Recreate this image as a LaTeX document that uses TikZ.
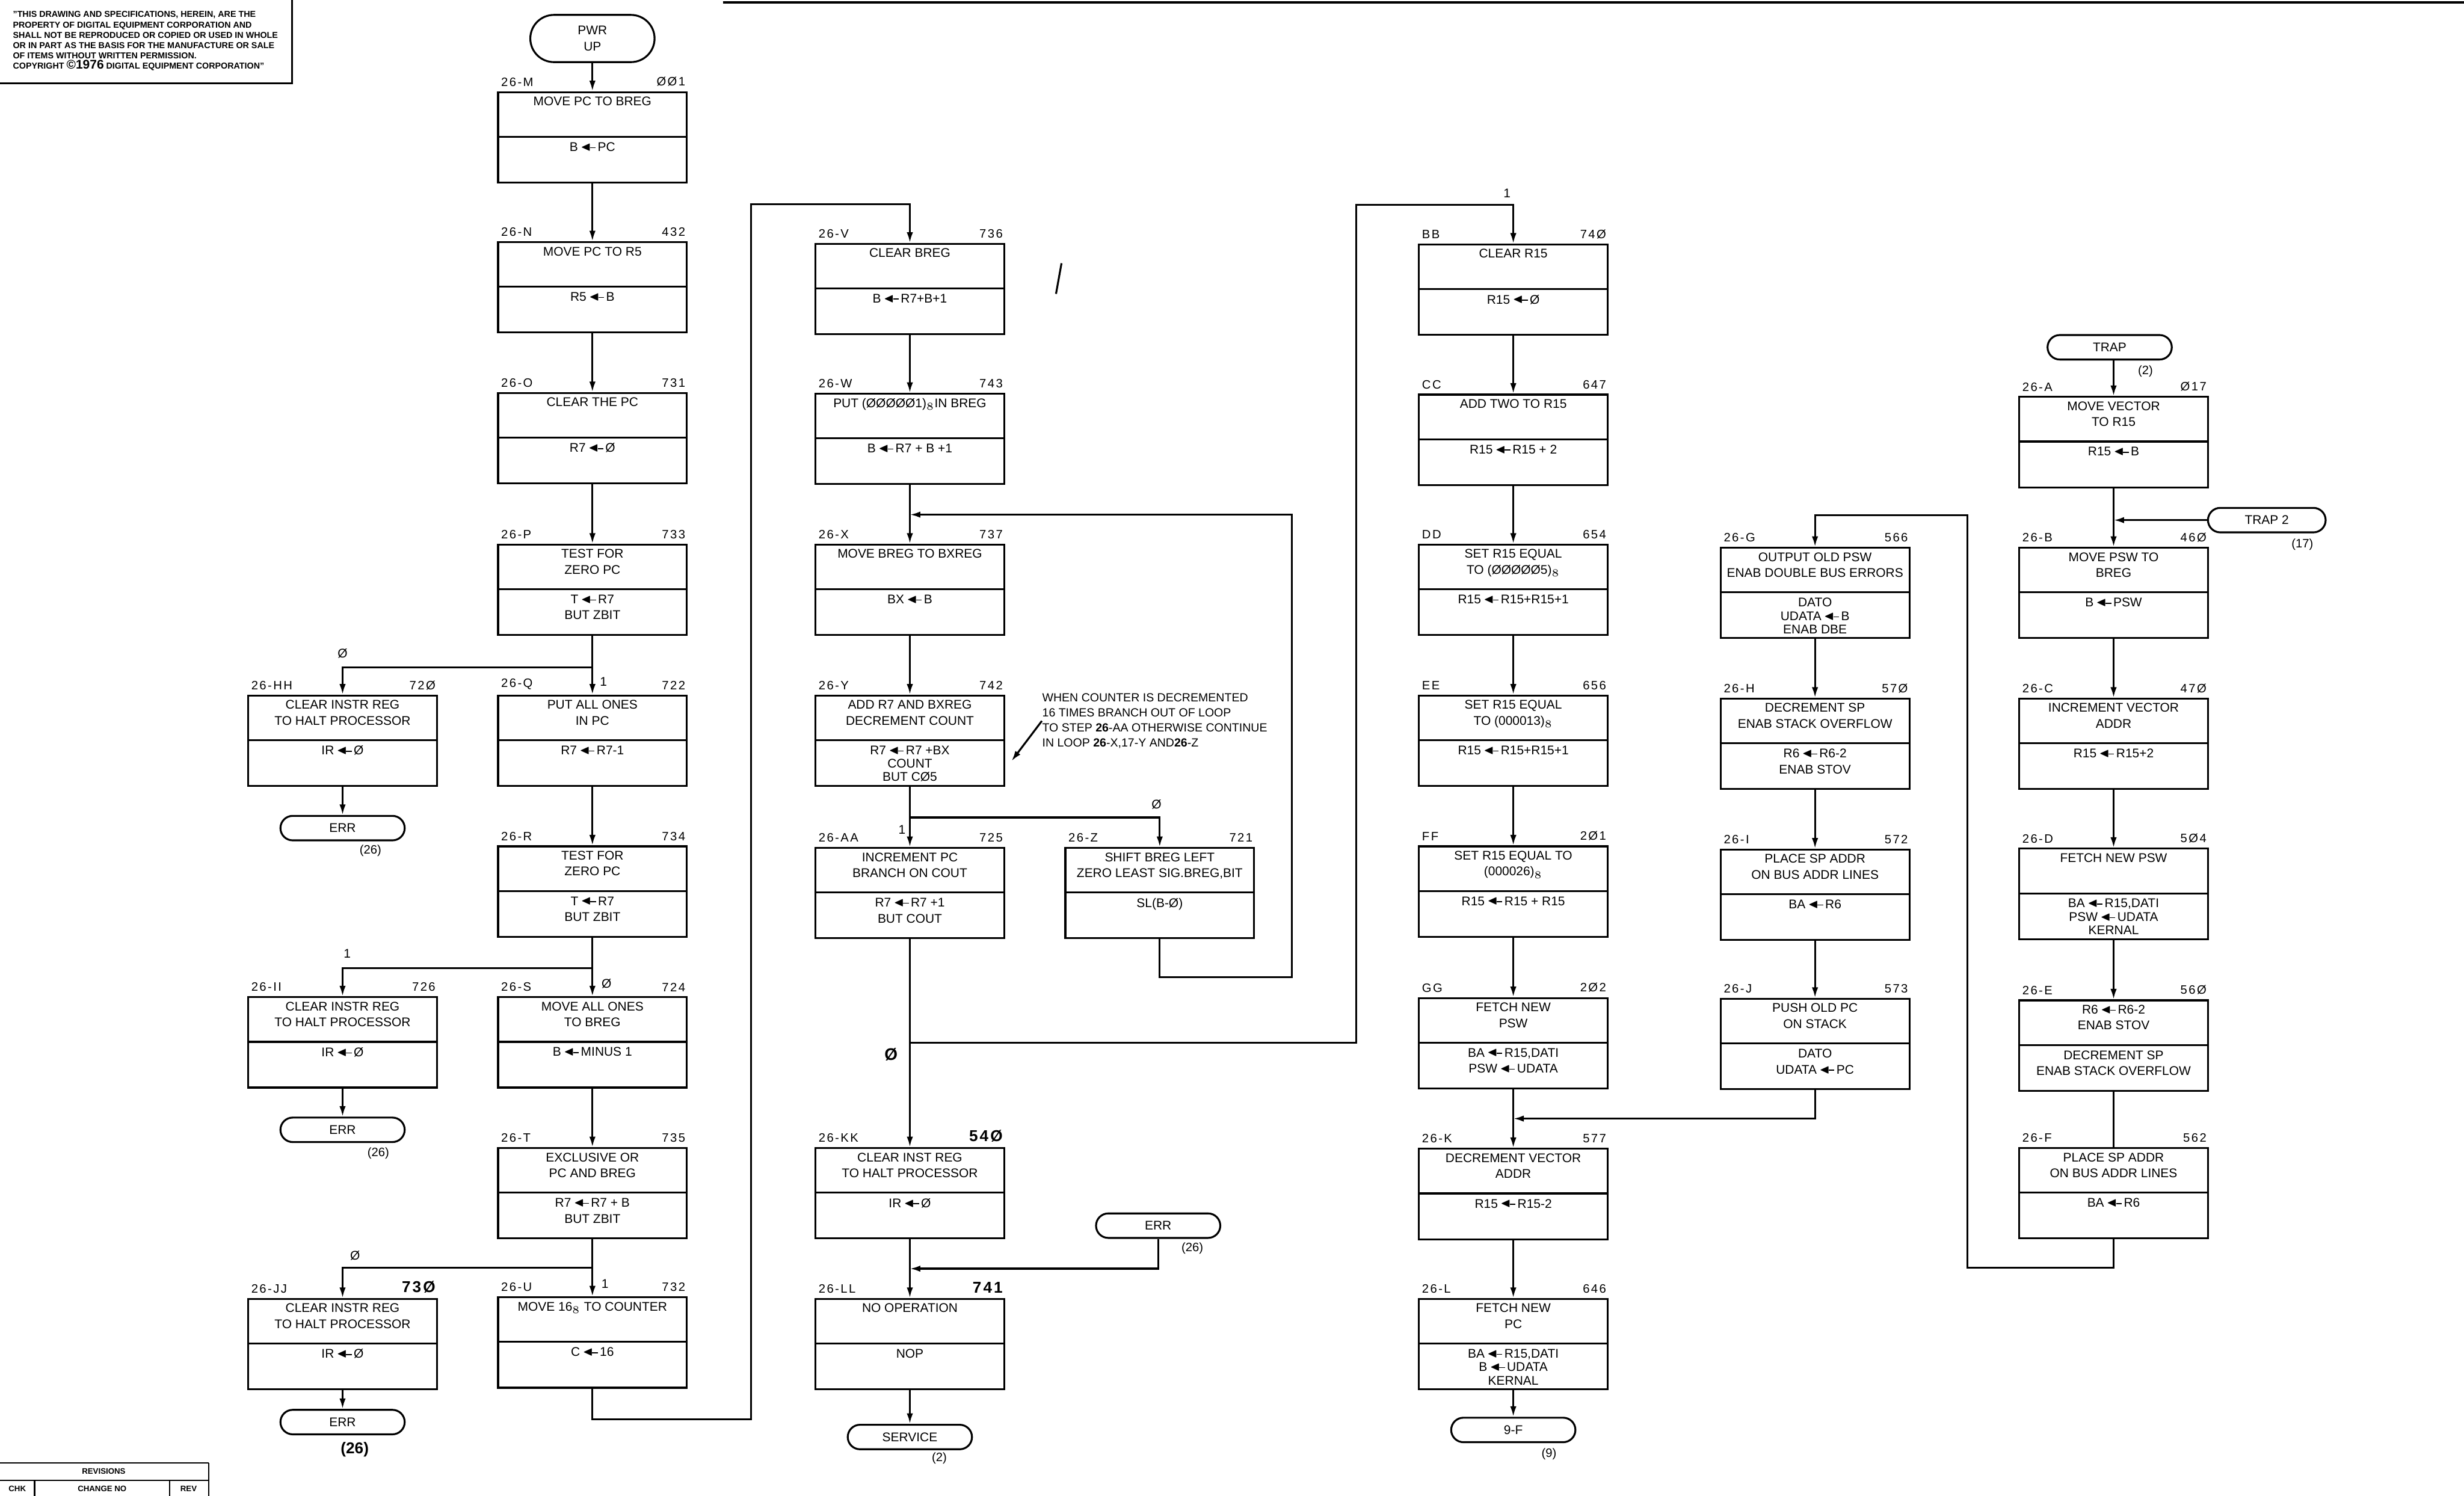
\documentclass[tikz,border=0pt]{standalone}
\usepackage{amssymb}
\usepackage{fontspec}
\setmainfont{Liberation Sans}
\usetikzlibrary{arrows.meta,calc,shapes.misc}

% register transfer arrow
\newcommand{\regarr}{\,\raisebox{0.1em}{$\scriptstyle\blacktriangleleft$}\kern-0.12em\rule[0.25em]{0.45em}{0.07em}\,}
% bold address number
\newcommand{\bnum}[1]{{\fontsize{7.5}{8}\selectfont\bfseries #1}}
% one microstep: [lower text options]{name}{x}{top}{step id}{address}{action}{transfer}
\newcommand{\flowbox}[8][]{%
  \node[stepbox] (#2) at (#3,#4) {};
  \draw[link] ($(#2.north west)+(0,29)$) -- ($(#2.north east)+(0,29)$);
  \node[steptext] (#2-up) at ($(#2.north)+(0,2)$) {#7};
  \node[steptext,#1] (#2-lo) at ($(#2.north)+(0,31)$) {#8};
  \node[steplabel,anchor=south west] (#2-id) at ($(#2.north west)+(1,-1.5)$) {#5};
  \node[steplabel,anchor=south east] (#2-ad) at ($(#2.north east)+(0,-1.5)$) {#6};
}

\begin{document}
\begin{tikzpicture}[x=0.02631cm, y=-0.02631cm,
    stepbox/.style={draw, line width=0.9pt, minimum width=3.16cm,
      minimum height=1.513cm, inner sep=0pt, anchor=north},
    steptext/.style={anchor=north, align=center, inner sep=1pt,
      font=\fontsize{6}{7.6}\selectfont},
    tight/.style={font=\fontsize{6}{6.4}\selectfont},
    steplabel/.style={inner sep=1pt,
      font=\fontsize{5.8}{7}\selectfont\addfontfeature{LetterSpace=12}},
    term/.style={draw, rounded rectangle, line width=0.9pt, align=center,
      minimum width=2.08cm, minimum height=0.41cm, inner sep=0pt,
      font=\fontsize{6}{7.6}\selectfont},
    refnote/.style={inner sep=0pt, font=\fontsize{5.8}{7}\selectfont},
    brlabel/.style={inner sep=0pt, font=\fontsize{6}{7}\selectfont},
    link/.style={line width=0.9pt},
    flow/.style={link, -{Latex[length=5pt,width=3pt]}}]

  % sheet
  \path[use as bounding box, fill=white] (0,0) rectangle (1568,952);
  \draw[link] (460,1.5) -- (1568,1.5);

  % copyright notice
  \node[anchor=north west, align=left, inner sep=0pt,
    font=\fontsize{4.1}{4.9}\selectfont\bfseries] (notice) at (8,7)
    {"THIS DRAWING AND SPECIFICATIONS, HEREIN, ARE THE\\
     PROPERTY OF DIGITAL EQUIPMENT CORPORATION AND\\
     SHALL NOT BE REPRODUCED OR COPIED OR USED IN WHOLE\\
     OR IN PART AS THE BASIS FOR THE MANUFACTURE OR SALE\\
     OF ITEMS WITHOUT WRITTEN PERMISSION.\\
     COPYRIGHT {\fontsize{6}{6}\selectfont ©1976} DIGITAL EQUIPMENT CORPORATION"};
  \draw[link] (186,0) |- (0,53);

  % revisions block
  \draw[line width=0.6pt] (0,931) -- (133,931) (0,942) -- (133,942)
    (133,931) -- (133,952) (22,942) -- (22,952) (108,942) -- (108,952);
  \node[font=\fontsize{3.8}{4}\selectfont\bfseries] (revhead) at (66,936.5) {REVISIONS};
  \node[font=\fontsize{3.8}{4}\selectfont\bfseries] (revchk) at (11,947.5) {CHK};
  \node[font=\fontsize{3.8}{4}\selectfont\bfseries] (revno) at (65,947.5) {CHANGE NO};
  \node[font=\fontsize{3.8}{4}\selectfont\bfseries] (revrev) at (120,947.5) {REV};

  % column 1: power up
  \node[term, minimum height=0.79cm] (pwr) at (377,24.5) {PWR\\UP};
  \flowbox{M}{377}{58}{26-M}{ØØ1}{MOVE PC TO BREG}{B\regarr PC}
  \flowbox{N}{377}{153.5}{26-N}{432}{MOVE PC TO R5}{R5\regarr B}
  \flowbox{O}{377}{249.5}{26-O}{731}{CLEAR THE PC}{R7\regarr Ø}
  \flowbox{P}{377}{346}{26-P}{733}{TEST FOR\\ZERO PC}{T\regarr R7\\BUT ZBIT}
  \flowbox{Q}{377}{442}{26-Q}{722}{PUT ALL ONES\\IN PC}{R7\regarr R7-1}
  \flowbox{HH}{218}{442}{26-HH}{72Ø}{CLEAR INSTR REG\\TO HALT PROCESSOR}{IR\regarr Ø}
  \flowbox{R}{377}{538}{26-R}{734}{TEST FOR\\ZERO PC}{T\regarr R7\\BUT ZBIT}
  \flowbox{II}{218}{634}{26-II}{726}{CLEAR INSTR REG\\TO HALT PROCESSOR}{IR\regarr Ø}
  \flowbox{S}{377}{634}{26-S}{724}{MOVE ALL ONES\\TO BREG}{B\regarr MINUS 1}
  \flowbox{T}{377}{730}{26-T}{735}{EXCLUSIVE OR\\PC AND BREG}{R7\regarr R7 + B\\BUT ZBIT}
  \flowbox{JJ}{218}{826}{26-JJ}{\bnum{73Ø}}{CLEAR INSTR REG\\TO HALT PROCESSOR}{IR\regarr Ø}
  \flowbox{U}{377}{825}{26-U}{732}{MOVE 16$_8$ TO COUNTER}{C\regarr 16}
  \node[term] (err1) at (218,527) {ERR};
  \node[term] (err2) at (218,719) {ERR};
  \node[term] (err3) at (218,905) {ERR};

  % column 2: counting loop
  \flowbox{V}{579}{154.5}{26-V}{736}{CLEAR BREG}{B\regarr R7+B+1}
  \flowbox{W}{579}{250}{26-W}{743}{PUT (ØØØØØ1)$_8$IN BREG}{B\regarr R7 + B +1}
  \flowbox{X}{579}{346}{26-X}{737}{MOVE BREG TO BXREG}{BX\regarr B}
  \flowbox[tight]{Y}{579}{442}{26-Y}{742}{ADD R7 AND BXREG\\DECREMENT COUNT}{R7\regarr R7 +BX\\COUNT\\BUT CØ5}
  \flowbox{AA}{579}{539}{26-AA}{725}{INCREMENT PC\\BRANCH ON COUT}{R7\regarr R7 +1\\BUT COUT}
  \flowbox{Z}{738}{539}{26-Z}{721}{SHIFT BREG LEFT\\ZERO LEAST SIG.BREG,BIT}{SL(B-Ø)}
  \flowbox{KK}{579}{730}{26-KK}{\bnum{54Ø}}{CLEAR INST REG\\TO HALT PROCESSOR}{IR\regarr Ø}
  \flowbox{LL}{579}{826}{26-LL}{\bnum{741}}{NO OPERATION}{NOP}
  \node[term] (err4) at (737,780) {ERR};
  \node[term] (svc) at (579,914.5) {SERVICE};
  \node[anchor=north west, align=left, inner sep=0pt,
    font=\fontsize{5.6}{7.2}\selectfont] (note) at (663,441)
    {WHEN COUNTER IS DECREMENTED\\
     16 TIMES BRANCH OUT OF LOOP\\
     TO STEP \textbf{26}-AA OTHERWISE CONTINUE\\
     IN LOOP \textbf{26}-X,17-Y AND\textbf{26}-Z};

  % column 3: vector 4 setup
  \flowbox{BB}{963}{155}{BB}{74Ø}{CLEAR R15}{R15\regarr Ø}
  \flowbox{CC}{963}{250.5}{CC}{647}{ADD TWO TO R15}{R15\regarr R15 + 2}
  \flowbox{DD}{963}{346}{DD}{654}{SET R15 EQUAL\\TO (ØØØØØ5)$_8$}{R15\regarr R15+R15+1}
  \flowbox{EE}{963}{442}{EE}{656}{SET R15 EQUAL\\TO (000013)$_8$}{R15\regarr R15+R15+1}
  \flowbox{FF}{963}{538}{FF}{2Ø1}{SET R15 EQUAL TO\\(000026)$_8$}{R15\regarr R15 + R15}
  \flowbox{GG}{963}{634.5}{GG}{2Ø2}{FETCH NEW\\PSW}{BA\regarr R15,DATI\\PSW\regarr UDATA}
  \flowbox{K}{963}{730.5}{26-K}{577}{DECREMENT VECTOR\\ADDR}{R15\regarr R15-2}
  \flowbox[tight]{L}{963}{826}{26-L}{646}{FETCH NEW\\PC}{BA\regarr R15,DATI\\B\regarr UDATA\\KERNAL}
  \node[term] (ninef) at (963,910) {9-F};

  % column 4: push old psw and pc
  \flowbox[tight]{G}{1155}{348}{26-G}{566}{OUTPUT OLD PSW\\ENAB DOUBLE BUS ERRORS}{DATO\\UDATA\regarr B\\ENAB DBE}
  \flowbox{H}{1155}{444}{26-H}{57Ø}{DECREMENT SP\\ENAB STACK OVERFLOW}{R6\regarr R6-2\\ENAB STOV}
  \flowbox{I}{1155}{540}{26-I}{572}{PLACE SP ADDR\\ON BUS ADDR LINES}{BA\regarr R6}
  \flowbox{J}{1155}{635}{26-J}{573}{PUSH OLD PC\\ON STACK}{DATO\\UDATA\regarr PC}

  % column 5: trap entry
  \node[term] (trap) at (1342.5,221) {TRAP};
  \node[term, minimum width=1.97cm] (trap2) at (1442.5,331) {TRAP 2};
  \flowbox{A}{1345}{252}{26-A}{Ø17}{MOVE VECTOR\\TO R15}{R15\regarr B}
  \flowbox{B}{1345}{348}{26-B}{46Ø}{MOVE PSW TO\\BREG}{B\regarr PSW}
  \flowbox{C}{1345}{444}{26-C}{47Ø}{INCREMENT VECTOR\\ADDR}{R15\regarr R15+2}
  \flowbox[tight]{D}{1345}{539.5}{26-D}{5Ø4}{FETCH NEW PSW}{BA\regarr R15,DATI\\PSW\regarr UDATA\\KERNAL}
  \flowbox{E}{1345}{636}{26-E}{56Ø}{R6\regarr R6-2\\ENAB STOV}{DECREMENT SP\\ENAB STACK OVERFLOW}
  \flowbox{F}{1345}{730}{26-F}{562}{PLACE SP ADDR\\ON BUS ADDR LINES}{BA\regarr R6}

  % exit references
  \node[refnote] (err1-ref) at ($(err1.south east)+(-14,6)$) {(26)};
  \node[refnote] (err2-ref) at ($(err2.south east)+(-9,6.5)$) {(26)};
  \node[refnote, font=\fontsize{7.5}{8}\selectfont\bfseries] (err3-ref) at ($(err3.south east)+(-24,9)$) {(26)};
  \node[refnote] (err4-ref) at ($(err4.south east)+(-10,6)$) {(26)};
  \node[refnote] (svc-ref) at ($(svc.south east)+(-13,5)$) {(2)};
  \node[refnote] (ninef-ref) at ($(ninef.south east)+(-9,7)$) {(9)};
  \node[refnote] (trap-ref) at ($(trap.south east)+(-9,7)$) {(2)};
  \node[refnote] (trap2-ref) at ($(trap2.south east)+(-7,7)$) {(17)};

  % branch values
  \node[brlabel] (Pzero) at (218,416) {Ø};
  \node[brlabel] (Pone) at (384,434) {1};
  \node[brlabel] (Rone) at (221,607) {1};
  \node[brlabel] (Rzero) at (386,626) {Ø};
  \node[brlabel] (Tzero) at (226,799) {Ø};
  \node[brlabel] (Tone) at (385,817) {1};
  \node[brlabel] (Yzero) at (736,512) {Ø};
  \node[brlabel] (Yone) at (574,528) {1};
  \node[brlabel, font=\fontsize{8}{9}\selectfont\bfseries] (AAzero) at (567,671) {Ø};
  \node[brlabel] (AAone) at (959,123) {1};

  % straight flow
  \draw[flow] (pwr.south) -- (M.north);
  \foreach \a/\b in {M/N, N/O, O/P, P/Q, Q/R, R/S, S/T, T/U, HH/err1, II/err2,
      JJ/err3, V/W, W/X, X/Y, Y/AA, AA/KK, KK/LL, LL/svc, BB/CC, CC/DD, DD/EE,
      EE/FF, FF/GG, GG/K, K/L, L/ninef, G/H, H/I, I/J, A/B, B/C, C/D, D/E}
    \draw[flow] (\a.south) -- (\b.north);
  \draw[link] (E.south) -- (F.north);

  % branches
  \draw[flow] (P.south) -- ++(0,20) -| (HH.north);
  \draw[flow] (R.south) -- ++(0,19.5) -| (II.north);
  \draw[flow] (T.south) -- ++(0,18) -| (JJ.north);
  \draw[flow] (Y.south) -- ++(0,19.5) -| (Z.north);

  % jumps between columns
  \coordinate (upturn) at (478,130);
  \draw[flow] (U.south) -- ++(0,19.5) -| (upturn) -| (V.north);
  \coordinate (loopturn) at (822,327.5);
  \draw[flow] (Z.south) -- ++(0,24) -| (loopturn) -- (W.south |- loopturn);
  \coordinate (aaexit) at ($(AA.south)+(0,66)$);
  \coordinate (bbturn) at (863,130.5);
  \draw[flow] (aaexit) -| (bbturn) -| (BB.north);
  \draw[flow] (err4.south) |- ($(KK.south)!0.5!(LL.north)$);
  \draw[flow] (J.south) |- ($(GG.south)!0.5!(K.north)$);
  \coordinate (gturn) at (1252,328);
  \draw[flow] (F.south) -- ++(0,18) -| (gturn) -| (G.north);
  \draw[flow] (A.north |- trap.south) -- (A.north);
  \draw[flow] (trap2.west) -- (A.south |- trap2.west);

  % note pointer and stray mark
  \coordinate (Ytip) at ($(Y.east)+(4,13)$);
  \draw[flow] (note.west) -- (Ytip);
  \draw[link] (675.5,167.5) -- (672,187);
\end{tikzpicture}
\end{document}
